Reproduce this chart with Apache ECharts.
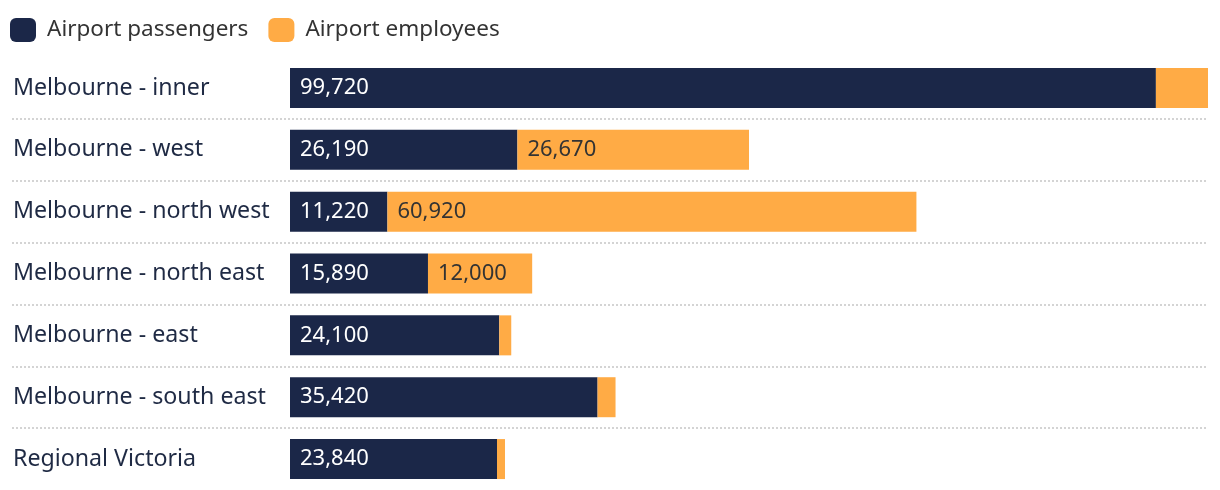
<!DOCTYPE html>
<html>
<head>
<meta charset="utf-8">
<script src="https://cdn.jsdelivr.net/npm/echarts@6/dist/echarts.min.js"></script>
<style>
html,body{margin:0;padding:0;background:#fff;}
#chart{width:1220px;height:490px;}
</style>
</head>
<body>
<div id="chart"></div>
<script>
const categories = ['Melbourne - inner','Melbourne - west','Melbourne - north west','Melbourne - north east','Melbourne - east','Melbourne - south east','Regional Victoria'];
const passengers = [99720, 26190, 11220, 15890, 24100, 35420, 23840];
const employees = [6000, 26670, 60920, 12000, 1380, 2070, 920];
const seriesNames = ['Airport passengers', 'Airport employees'];

const FONT = 'Noto Sans';
const fmt = v => v.toLocaleString('en-US');
const chart = echarts.init(document.getElementById('chart'));
chart.setOption({
  animation: false,
  textStyle: {fontFamily: FONT},
  legend: {
    left: 5, top: 12,
    itemWidth: 26, itemHeight: 24, itemGap: 20,
    icon: 'roundRect',
    textStyle: {fontSize: 22.5, lineHeight: 24, color: '#333', fontFamily: FONT, padding: [2,0,0,6]},
    data: seriesNames
  },
  grid: [
    {left: 290, right: 12, top: 57, height: 434},
    {left: 12, right: 12, top: 57, height: 434}
  ],
  xAxis: [
    {type: 'value', gridIndex: 0, min: 0, max: 'dataMax', show: false},
    {type: 'value', gridIndex: 1, show: false}
  ],
  yAxis: [
    {type: 'category', gridIndex: 0, data: categories, inverse: true,
     axisLine: {show: false}, axisTick: {show: false}, splitLine: {show: false},
     axisLabel: {align: 'left', margin: 277, fontSize: 23.2, color: '#1f2a44', fontFamily: FONT, padding: [3,0,0,0]}},
    {type: 'category', gridIndex: 1, data: categories, inverse: true,
     axisLine: {show: false}, axisTick: {show: false}, axisLabel: {show: false},
     splitLine: {show: true, showMinLine: false, showMaxLine: false, lineStyle: {color: '#d4d4d4', width: 2, type: [2, 2]}}}
  ],
  series: [
    {name: seriesNames[0], type: 'bar', stack: 'a', data: passengers, barWidth: 40,
     itemStyle: {color: '#1b2748'},
     label: {show: true, position: 'insideLeft', distance: 10, color: '#fff', fontSize: 22, fontFamily: FONT,
       formatter: p => fmt(p.value)}},
    {name: seriesNames[1], type: 'bar', stack: 'a', data: employees, barWidth: 40,
     itemStyle: {color: '#ffab45'},
     label: {show: true, position: 'insideLeft', distance: 10, color: '#333', fontSize: 22, fontFamily: FONT,
       formatter: p => p.value >= 10000 ? fmt(p.value) : ''}}
  ]
});
</script>
</body>
</html>
